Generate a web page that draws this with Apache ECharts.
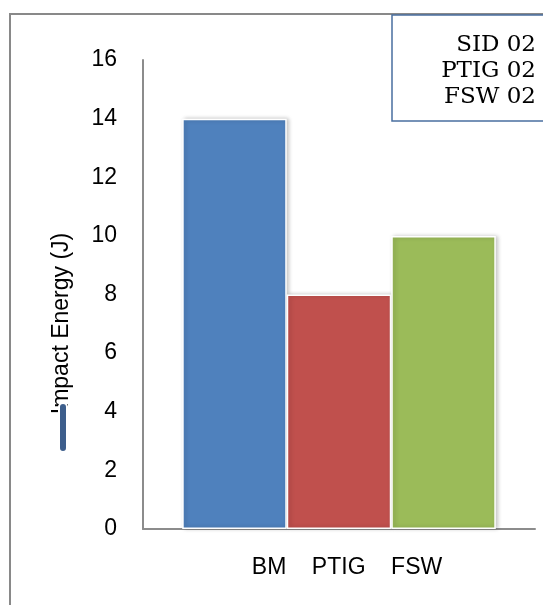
<!DOCTYPE html>
<html>
<head>
<meta charset="utf-8">
<script src="https://cdn.jsdelivr.net/npm/echarts@6/dist/echarts.min.js"></script>
<style>
  html, body { margin: 0; padding: 0; background: #fff; }
  #main { width: 543px; height: 605px; }
</style>
</head>
<body>
<div id="main"></div>
<script>
// one category, three series side by side (like the Excel original)
var categories = ['BM    PTIG    FSW'];
var seriesNames = ['BM', 'PTIG', 'FSW'];
var seriesValues = [[14], [8], [10]];
var seriesColors = ['#4f81bd', '#c0504d', '#9bbb59'];
var yTicks = { min: 0, max: 16, step: 2 };
var boxLines = ['SID 02', 'PTIG 02', 'FSW 02'];

var chart = echarts.init(document.getElementById('main'));

var series = [];
for (var i = 0; i < seriesNames.length; i++) {
	series.push({
		name: seriesNames[i],
		type: 'bar',
		barGap: '0%',
		barCategoryGap: '20%',
		itemStyle: {
			color: seriesColors[i],
			borderColor: '#ffffff',
			borderWidth: 1.5,
			shadowColor: 'rgba(0,0,0,0.22)',
			shadowBlur: 4,
			shadowOffsetX: 2,
			shadowOffsetY: 0
		},
		data: seriesValues[i]
	});
}

chart.setOption({
	backgroundColor: '#fff',
	animation: false,
	textStyle: { fontFamily: 'Liberation Sans' },
	grid: { left: 143, right: 8, top: 60, bottom: 76, containLabel: false },
	legend: {
		orient: 'vertical',
		left: 53,
		top: 397,
		selectedMode: false,
		itemWidth: 8,
		itemHeight: 49,
		formatter: function(){ return ''; },
		data: [{
			name: 'BM',
			icon: 'path://M4,0 A4,4 0 0 1 8,4 L8,45 A4,4 0 0 1 0,45 L0,4 A4,4 0 0 1 4,0 Z',
			itemStyle: { color: '#3d5e8c' }
		}]
	},
	xAxis: {
		type: 'category',
		data: categories,
		axisTick: { show: false },
		axisLine: { lineStyle: { color: '#8c8c8c', width: 2 } },
		axisLabel: { color: '#000', fontSize: 23, margin: 27, padding: [0, 0, 0, 16] }
	},
	yAxis: {
		type: 'value',
		min: yTicks.min,
		max: yTicks.max,
		interval: yTicks.step,
		name: 'Impact Energy (J)',
		nameLocation: 'middle',
		nameRotate: 90,
		nameGap: 70,
		nameTextStyle: { color: '#000', fontSize: 23, padding: [0, 58, 0, 0] },
		axisLine: { show: true, lineStyle: { color: '#8c8c8c', width: 2 } },
		axisTick: { show: false },
		splitLine: { show: false },
		axisLabel: { color: '#000', fontSize: 23, margin: 26 }
	},
	graphic: [
		{
			// outer frame, only top and left edges are on screen
			type: 'rect',
			z: -1,
			shape: { x: 10, y: 14, width: 600, height: 700 },
			style: { fill: 'none', stroke: '#898989', lineWidth: 2 }
		},
		{
			type: 'rect',
			z: 10,
			shape: { x: 392, y: 15, width: 200, height: 106 },
			style: { fill: '#fff', stroke: '#4a6fa0', lineWidth: 1.5 }
		},
		{
			type: 'text',
			z: 11,
			x: 536,
			y: 32,
			style: {
				text: boxLines.join('\n'),
				font: '23px "DejaVu Serif"',
				lineHeight: 26,
				align: 'right',
				verticalAlign: 'top',
				fill: '#000'
			}
		}
	],
	series: series
});
</script>
</body>
</html>
